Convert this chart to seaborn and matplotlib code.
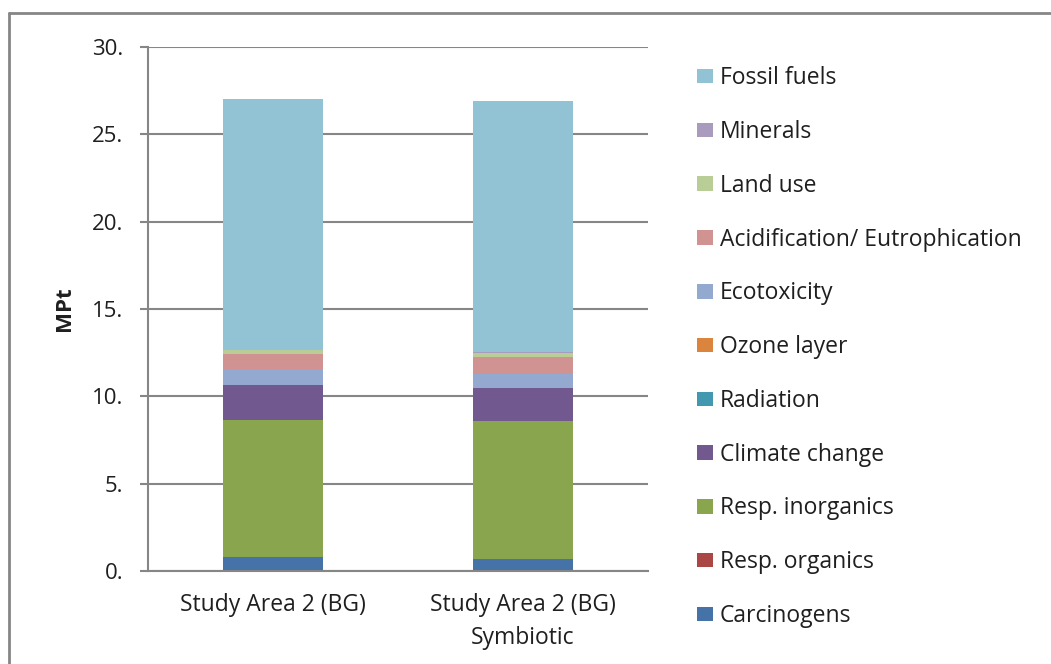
import numpy as np
import pandas as pd
import matplotlib
matplotlib.use("Agg")
import matplotlib.pyplot as plt
from matplotlib.patches import Patch
from matplotlib.lines import Line2D
import seaborn as sns

# Damage categories, bottom of the stack first
categories = ["Carcinogens", "Resp. organics", "Resp. inorganics", "Climate change",
              "Radiation", "Ozone layer", "Ecotoxicity", "Acidification/ Eutrophication",
              "Land use", "Minerals", "Fossil fuels"]
sites = ["Study Area 2 (BG)", "Study Area 2 (BG)\nSymbiotic"]

# Single score per category (MPt)
baseline = [0.78, 0.02, 7.86, 1.99, 0.01, 0.0, 0.83, 0.95, 0.19, 0.03, 14.39]
symbiotic = [0.68, 0.02, 7.87, 1.92, 0.01, 0.0, 0.80, 0.98, 0.21, 0.02, 14.38]

palette = ["#4572A7", "#AA4643", "#89A54E", "#71588F", "#4198AF", "#DB843D",
           "#93A9CF", "#D19392", "#B9CD96", "#A99BBD", "#92C3D5"]

yticks = [0, 5, 10, 15, 20, 25, 30]

sns.set_style("white")
plt.rcParams["font.family"] = ["Open Sans", "DejaVu Sans"]

grey = "#868686"
ink = "#1f1f1f"
fig = plt.figure(figsize=(10.51, 6.64), dpi=100)
ax = fig.add_axes([148 / 1051, 93 / 664, 500 / 1051, 524 / 664])

df = pd.DataFrame({"site": np.repeat(sites, len(categories)),
                   "category": categories * 2,
                   "value": baseline + symbiotic})
df["bottom"] = df.groupby("site", sort=False)["value"].cumsum() - df["value"]

for cat, col in zip(categories, palette):
    sub = df[df["category"] == cat]
    sns.barplot(data=sub, x="site", y="value", order=sites, color=col,
                width=0.4, bottom=sub["bottom"].values, edgecolor="none",
                errorbar=None, ax=ax, zorder=3, saturation=1)

ax.set_xlim(-0.5, 1.5)
ax.set_ylim(0, 30)
ax.set_yticks(yticks)
ax.set_yticklabels([f"{v}." for v in yticks], fontsize=16, color=ink)
for v in yticks:
    ax.axhline(v, color=grey, lw=1.5, zorder=1)

ax.set_xticks([0, 1])
ax.set_xticklabels(sites, fontsize=16.5, color=ink, linespacing=1.5)
ax.set_xticks([-0.5, 0.5, 1.5], minor=True)
ax.tick_params(axis="x", which="major", length=0, pad=16)
ax.tick_params(axis="x", which="minor", length=5, width=1.5, color=grey, direction="out")
ax.tick_params(axis="y", length=6, width=1.5, color=grey, direction="out", pad=12, left=True)

for side in ["top", "right"]:
    ax.spines[side].set_visible(False)
for side in ["left", "bottom"]:
    ax.spines[side].set_color(grey)
    ax.spines[side].set_linewidth(1.5)
    ax.spines[side].set_zorder(4)

ax.set_xlabel("")
ax.set_ylabel("MPt", fontsize=16, fontweight="bold", labelpad=12, color=ink)

handles = [Patch(facecolor=c, edgecolor="none", label=l)
           for l, c in zip(categories[::-1], palette[::-1])]
fig.legend(handles=handles, loc="upper left", bbox_to_anchor=(688 / 1051, 1 - 57 / 664),
           frameon=False, fontsize=16.5, handlelength=0.7, handleheight=0.6,
           handletextpad=0.3, labelspacing=1.30, borderaxespad=0,
           labelcolor=ink)

# Chart frame
fig.add_artist(Line2D([9 / 1051, 1], [1 - 13 / 664, 1 - 13 / 664], color=grey, lw=2,
                      transform=fig.transFigure))
fig.add_artist(Line2D([9 / 1051, 9 / 1051], [0, 1 - 13 / 664], color=grey, lw=2,
                      transform=fig.transFigure))

fig.savefig("out.png", dpi=100, facecolor="white")
